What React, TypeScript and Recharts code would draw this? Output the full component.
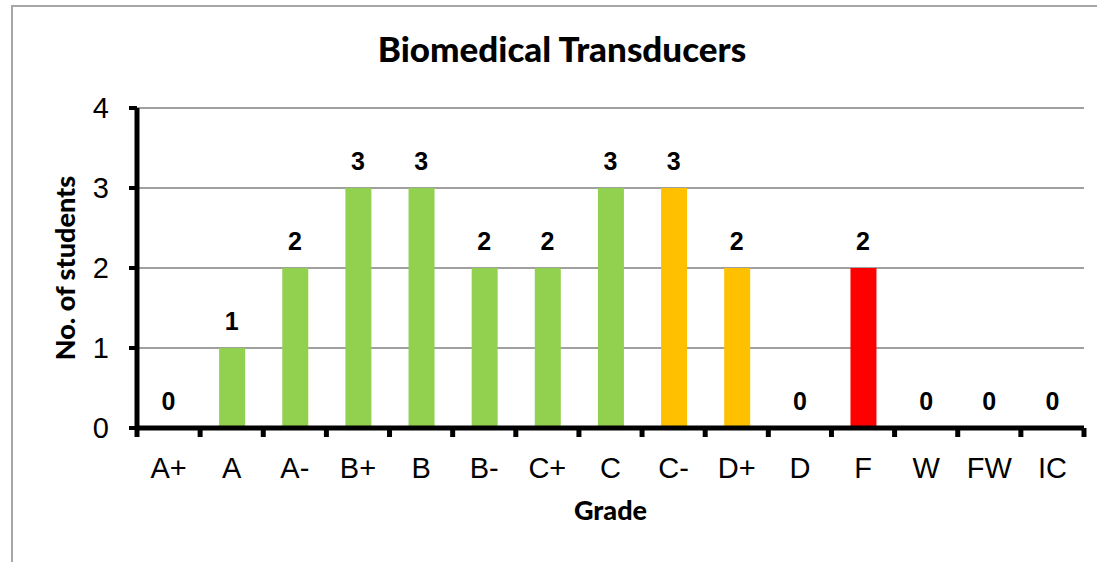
import React from 'react';
import { ComposedChart, Bar, Line, XAxis, YAxis, CartesianGrid, Cell, LabelList } from 'recharts';

const grades = ['A+', 'A', 'A-', 'B+', 'B', 'B-', 'C+', 'C', 'C-', 'D+', 'D', 'F', 'W', 'FW', 'IC'];
const students = [0, 1, 2, 3, 3, 2, 2, 3, 3, 2, 0, 2, 0, 0, 0];
const barColors = [
  '#92d050', '#92d050', '#92d050', '#92d050', '#92d050', '#92d050', '#92d050', '#92d050',
  '#ffc000', '#ffc000', '#ffc000', '#ff0000', '#92d050', '#92d050', '#92d050',
];
const yTicks = [0, 1, 2, 3, 4];

const chartData = grades.map((g, i) => ({ grade: g, students: students[i] }));

const labelFont = 'Lato, "Open Sans", sans-serif';
const tickFont = '"Liberation Sans", Arial, sans-serif';

// Excel-style ticks: marks sit on the category boundaries, labels in the middle
const GradeTick = (props: any) => {
  const { x, y, payload, index, visibleTicksCount, width } = props;
  const band = typeof width === 'number' && visibleTicksCount ? width / visibleTicksCount : (payload.offset || 0) * 2;
  const axisY = y - 29;
  const left = x - band / 2;
  const right = x + band / 2;
  return (
    <g>
      <line x1={left} x2={left} y1={axisY} y2={axisY + 9} stroke="#000" strokeWidth={5} />
      {index === visibleTicksCount - 1 && (
        <line x1={right} x2={right} y1={axisY} y2={axisY + 9} stroke="#000" strokeWidth={5} />
      )}
      <text x={x} y={y} dy="0.71em" textAnchor="middle" fill="#000" fontSize={29} fontFamily={tickFont}>
        {payload.value}
      </text>
    </g>
  );
};

// labels hang off an invisible line so the zero bars get one too
const ValueLabel = (props: any) => {
  const { x, y, value } = props;
  return (
    <text x={x} y={y - 18} textAnchor="middle" fill="#000" fontFamily={tickFont} fontWeight="bold" fontSize={25}>
      {String(value)}
    </text>
  );
};

export default function App() {
  return (
    <div style={{ position: 'absolute', left: 0, top: 0, width: 1097, height: 562, overflow: 'hidden', background: '#fff' }}>
      <svg width={1097} height={562} style={{ position: 'absolute', left: 0, top: 0 }}>
        <rect x={12} y={6} width={1200} height={700} fill="none" stroke="#a6a6a6" strokeWidth={2} />
        <text x={562} y={62} textAnchor="middle" fontFamily={labelFont} fontWeight={900} fontSize={35} fill="#000">
          Biomedical Transducers
        </text>
      </svg>
      <div style={{ position: 'absolute', left: 0, top: 0 }}>
        <ComposedChart
          width={1097}
          height={562}
          data={chartData}
          margin={{ top: 108, right: 13, bottom: 0, left: 37 }}
          barSize={26}
        >
          <CartesianGrid vertical={false} stroke="#a0a0a0" strokeWidth={2} />
          <XAxis
            dataKey="grade"
            height={134}
            interval={0}
            tickLine={false}
            tickSize={8}
            tickMargin={21}
            axisLine={{ stroke: '#000', strokeWidth: 5 }}
            tick={<GradeTick />}
            label={{
              content: ({ viewBox }: any) => (
                <text
                  x={viewBox.x + viewBox.width / 2}
                  y={viewBox.y + 92}
                  textAnchor="middle"
                  fontFamily={labelFont}
                  fontWeight={900}
                  fontSize={27}
                  fill="#000"
                >
                  Grade
                </text>
              ),
            }}
          />
          <YAxis
            width={100}
            domain={[0, 4]}
            ticks={yTicks}
            interval={0}
            tickSize={8}
            tickMargin={20}
            axisLine={{ stroke: '#000', strokeWidth: 5 }}
            tickLine={{ stroke: '#000', strokeWidth: 4 }}
            tick={{ fill: '#000', fontSize: 29, fontFamily: tickFont }}
            label={{
              content: ({ viewBox }: any) => {
                const cx = viewBox.x + 38;
                const cy = viewBox.y + viewBox.height / 2;
                return (
                  <text
                    x={cx}
                    y={cy}
                    transform={`rotate(-90, ${cx}, ${cy})`}
                    textAnchor="middle"
                    fontFamily={labelFont}
                    fontWeight={900}
                    fontSize={27}
                    fill="#000"
                  >
                    No. of students
                  </text>
                );
              },
            }}
          />
          <Bar dataKey="students" isAnimationActive={false}>
            {chartData.map((d, i) => (
              <Cell key={d.grade} fill={barColors[i]} />
            ))}
          </Bar>
          <Line
            dataKey="students"
            stroke="none"
            dot={false}
            activeDot={false}
            legendType="none"
            isAnimationActive={false}
          >
            <LabelList dataKey="students" content={<ValueLabel />} />
          </Line>
        </ComposedChart>
      </div>
    </div>
  );
}
